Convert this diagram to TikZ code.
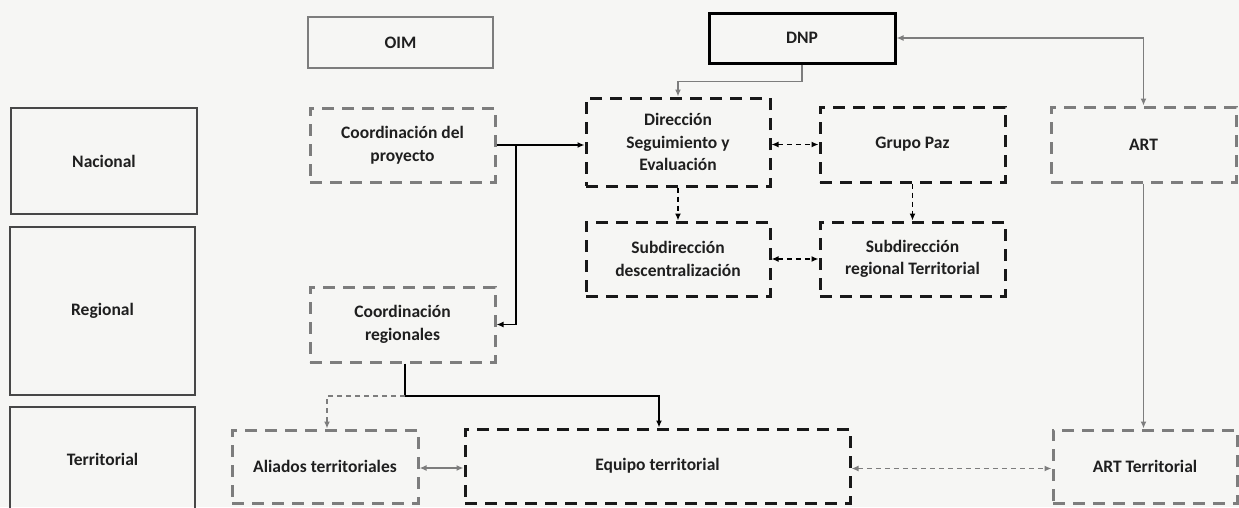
\documentclass[tikz,border=0pt]{standalone}
\usepackage{fontspec}
\setmainfont{Carlito}
\usetikzlibrary{arrows.meta}
\definecolor{bgc}{RGB}{246,246,244}
\definecolor{gline}{RGB}{125,125,125}
\begin{document}
\begin{tikzpicture}[x=1pt,y=-1pt,
  >={Latex[length=7pt,width=6pt]},
  every node/.style={font=\fontsize{17.5}{22.5}\selectfont\bfseries, text=black!88, align=center, inner sep=0pt},
  box/.style={draw, rectangle, line width=2.6pt},
  lvlbox/.style={box, draw=black!72, line width=2.4pt},
  gsolid/.style={box, draw=gline},
  bsolid/.style={box, draw=black, line width=3pt},
  gdash/.style={box, draw=gline, line width=3pt, dash pattern=on 12pt off 8pt},
  bdash/.style={box, draw=black!90, line width=3pt, dash pattern=on 12pt off 8pt},
  bconn/.style={line width=1.8pt, draw=black},
  gconn/.style={line width=1.5pt, draw=gline},
  bdconn/.style={bconn, dash pattern=on 5pt off 4pt},
  gdconn/.style={gconn, dash pattern=on 5pt off 4pt}
]
\useasboundingbox (0,0) rectangle (1239,507);
\fill[bgc] (0,0) rectangle (1239,507);

% level boxes
\node[lvlbox, minimum width=186pt, minimum height=106pt] (nac) at (104,161) {Nacional};
\node[lvlbox, minimum width=185pt, minimum height=168pt] (reg) at (102.5,311) {Regional};
\node[lvlbox, minimum width=185pt, minimum height=105pt] (ter) at (102.5,459.5) {Territorial};

% top row
\node[gsolid, minimum width=185pt, minimum height=51pt] (oim) at (400.5,42.5) {OIM};
\node[bsolid, minimum width=186pt, minimum height=50pt] (dnp) at (802,38) {DNP};

% national row
\node[gdash, minimum width=185pt, minimum height=74pt] (cdp) at (402.5,145) {Coordinación del\\proyecto};
\node[bdash, minimum width=184pt, minimum height=88pt] (dse) at (678,142) {Dirección\\Seguimiento y\\Evaluación};
\node[bdash, minimum width=185pt, minimum height=75pt] (gp) at (912.5,144.5) {Grupo Paz};
\node[gdash, minimum width=185pt, minimum height=75pt] (art) at (1143.5,144.5) {ART};

% second row
\node[bdash, minimum width=184pt, minimum height=74pt] (sd) at (678,259) {Subdirección\\descentralización};
\node[bdash, minimum width=185pt, minimum height=74pt] (srt) at (912.5,259) {Subdirección\\regional Territorial};

% regional
\node[gdash, minimum width=185pt, minimum height=75pt] (cr) at (402.5,324.5) {Coordinación\\regionales};

% territorial
\node[gdash, minimum width=186pt, minimum height=73pt] (ali) at (325,466.5) {Aliados territoriales};
\node[bdash, minimum width=385pt, minimum height=74pt] (eq) at (657.5,466) {Equipo territorial};
\node[gdash, minimum width=184pt, minimum height=73pt] (artt) at (1145,466.5) {ART Territorial};

% connectors
\draw[gconn, ->] (dnp.south) -- ++(0,17) -| (dse.north);
\draw[gconn, <->] (dnp.east) -| (art.north);
\draw[gconn, ->] (art.south) -- (art.south |- artt.north);

\coordinate (j1) at (516,145);
\draw[bconn, ->] (cdp.east) -- (cdp.east -| dse.west);
\draw[bconn, ->] (j1) |- (cr.east);

\draw[bdconn, <->] (gp.west -| dse.east) -- (gp.west);
\draw[bdconn, ->] (dse.south) -- (sd.north);
\draw[bdconn, ->] (gp.south) -- (srt.north);
\draw[bdconn, <->] (sd.east) -- (srt.west);

\coordinate (j2) at (405,396);
\draw[bconn, ->] (cr.south -| j2) -- (j2) -| ([xshift=1.5pt]eq.north);
\draw[gdconn, ->] (j2) -| ([xshift=2pt]ali.north);

\draw[gconn, <->] ([yshift=-1.5pt]ali.east) -- ([yshift=-1.5pt]ali.east -| eq.west);
\draw[gdconn, <->] ([yshift=-2.5pt]eq.east) -- ([yshift=-2.5pt]eq.east -| artt.west);
\end{tikzpicture}
\end{document}
